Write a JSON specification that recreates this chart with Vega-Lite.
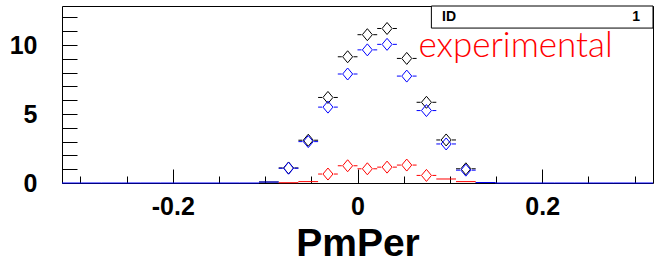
{
  "$schema": "https://vega.github.io/schema/vega-lite/v6.json",
  "width": 591,
  "height": 177,
  "autosize": {"type": "none"},
  "padding": {"left": 62, "top": 6, "right": 6, "bottom": 80},
  "background": "white",
  "config": {"view": {"stroke": "black", "strokeWidth": 1}},
  "resolve": {"axis": {"x": "independent"}},
  "data": {"values": [
    {"s": "sum", "lo": -0.106667, "hi": -0.085333, "x": -0.096, "y": 0.07},
    {"s": "sum", "lo": -0.085333, "hi": -0.064, "x": -0.074667, "y": 1.09},
    {"s": "sum", "lo": -0.064, "hi": -0.042667, "x": -0.053333, "y": 3.1},
    {"s": "sum", "lo": -0.042667, "hi": -0.021333, "x": -0.032, "y": 6.2},
    {"s": "sum", "lo": -0.021333, "hi": 0, "x": -0.010667, "y": 9.15},
    {"s": "sum", "lo": 0, "hi": 0.021333, "x": 0.010667, "y": 10.75},
    {"s": "sum", "lo": 0.021333, "hi": 0.042667, "x": 0.032, "y": 11.2},
    {"s": "sum", "lo": 0.042667, "hi": 0.064, "x": 0.053333, "y": 9.03},
    {"s": "sum", "lo": 0.064, "hi": 0.085333, "x": 0.074667, "y": 5.85},
    {"s": "sum", "lo": 0.085333, "hi": 0.106667, "x": 0.096, "y": 3.12},
    {"s": "sum", "lo": 0.106667, "hi": 0.128, "x": 0.117333, "y": 1.03},
    {"s": "sum", "lo": 0.128, "hi": 0.149333, "x": 0.138667, "y": 0.03},
    {"s": "comp2", "lo": -0.085333, "hi": -0.064, "x": -0.074667, "y": 0.02},
    {"s": "comp2", "lo": -0.064, "hi": -0.042667, "x": -0.053333, "y": 0.1},
    {"s": "comp2", "lo": -0.042667, "hi": -0.021333, "x": -0.032, "y": 0.65},
    {"s": "comp2", "lo": -0.021333, "hi": 0, "x": -0.010667, "y": 1.25},
    {"s": "comp2", "lo": 0, "hi": 0.021333, "x": 0.010667, "y": 1.03},
    {"s": "comp2", "lo": 0.021333, "hi": 0.042667, "x": 0.032, "y": 1.15},
    {"s": "comp2", "lo": 0.042667, "hi": 0.064, "x": 0.053333, "y": 1.3},
    {"s": "comp2", "lo": 0.064, "hi": 0.085333, "x": 0.074667, "y": 0.55},
    {"s": "comp2", "lo": 0.085333, "hi": 0.106667, "x": 0.096, "y": 0.29},
    {"s": "comp2", "lo": 0.106667, "hi": 0.128, "x": 0.117333, "y": 0.1},
    {"s": "comp1", "lo": -0.32, "hi": -0.298667, "x": -0.309333, "y": 0},
    {"s": "comp1", "lo": -0.298667, "hi": -0.277333, "x": -0.288, "y": 0},
    {"s": "comp1", "lo": -0.277333, "hi": -0.256, "x": -0.266667, "y": 0},
    {"s": "comp1", "lo": -0.256, "hi": -0.234667, "x": -0.245333, "y": 0},
    {"s": "comp1", "lo": -0.234667, "hi": -0.213333, "x": -0.224, "y": 0},
    {"s": "comp1", "lo": -0.213333, "hi": -0.192, "x": -0.202667, "y": 0},
    {"s": "comp1", "lo": -0.192, "hi": -0.170667, "x": -0.181333, "y": 0},
    {"s": "comp1", "lo": -0.170667, "hi": -0.149333, "x": -0.16, "y": 0},
    {"s": "comp1", "lo": -0.149333, "hi": -0.128, "x": -0.138667, "y": 0},
    {"s": "comp1", "lo": -0.128, "hi": -0.106667, "x": -0.117333, "y": 0},
    {"s": "comp1", "lo": -0.106667, "hi": -0.085333, "x": -0.096, "y": 0.07},
    {"s": "comp1", "lo": -0.085333, "hi": -0.064, "x": -0.074667, "y": 1.07},
    {"s": "comp1", "lo": -0.064, "hi": -0.042667, "x": -0.053333, "y": 3.0},
    {"s": "comp1", "lo": -0.042667, "hi": -0.021333, "x": -0.032, "y": 5.5},
    {"s": "comp1", "lo": -0.021333, "hi": 0, "x": -0.010667, "y": 7.9},
    {"s": "comp1", "lo": 0, "hi": 0.021333, "x": 0.010667, "y": 9.65},
    {"s": "comp1", "lo": 0.021333, "hi": 0.042667, "x": 0.032, "y": 10.05},
    {"s": "comp1", "lo": 0.042667, "hi": 0.064, "x": 0.053333, "y": 7.75},
    {"s": "comp1", "lo": 0.064, "hi": 0.085333, "x": 0.074667, "y": 5.25},
    {"s": "comp1", "lo": 0.085333, "hi": 0.106667, "x": 0.096, "y": 2.83},
    {"s": "comp1", "lo": 0.106667, "hi": 0.128, "x": 0.117333, "y": 0.93},
    {"s": "comp1", "lo": 0.128, "hi": 0.149333, "x": 0.138667, "y": 0.03},
    {"s": "comp1", "lo": 0.149333, "hi": 0.170667, "x": 0.16, "y": 0},
    {"s": "comp1", "lo": 0.170667, "hi": 0.192, "x": 0.181333, "y": 0},
    {"s": "comp1", "lo": 0.192, "hi": 0.213333, "x": 0.202667, "y": 0},
    {"s": "comp1", "lo": 0.213333, "hi": 0.234667, "x": 0.224, "y": 0},
    {"s": "comp1", "lo": 0.234667, "hi": 0.256, "x": 0.245333, "y": 0},
    {"s": "comp1", "lo": 0.256, "hi": 0.277333, "x": 0.266667, "y": 0},
    {"s": "comp1", "lo": 0.277333, "hi": 0.298667, "x": 0.288, "y": 0},
    {"s": "comp1", "lo": 0.298667, "hi": 0.32, "x": 0.309333, "y": 0}
  ]},
  "encoding": {
    "x": {
      "field": "lo", "type": "quantitative",
      "scale": {"domain": [-0.32, 0.32], "nice": false, "zero": false},
      "axis": {
        "orient": "bottom",
        "title": "PmPer", "domain": false, "grid": false,
        "values": [-0.2, 0, 0.2],
        "format": ".1~f",
        "labelExpr": "replace(datum.label, '\u2212', '-')",
        "ticks": true, "tickColor": "black", "tickOpacity": 1, "tickWidth": 1, "tickSize": -14,
        "labelFont": "Liberation Sans", "labelFontWeight": "bold", "labelFontSize": 25,
        "labelColor": "black", "labelPadding": 45, "labelBaseline": "alphabetic",
        "titleFont": "Liberation Sans", "titleFontWeight": "bold", "titleFontSize": 39,
        "titleColor": "black", "titlePadding": 5
      }
    },
    "y": {
      "field": "y", "type": "quantitative",
      "scale": {"domain": [0, 12.83], "nice": false, "zero": false},
      "axis": {
        "title": null, "grid": false, "domain": false,
        "values": [0, 1, 2, 3, 4, 5, 6, 7, 8, 9, 10, 11, 12],
        "format": "d",
        "labelExpr": "datum.value % 5 === 0 ? datum.label : ''",
        "tickColor": "black", "tickWidth": 1,
        "tickSize": -15,
        "encode": {"ticks": {"update": {"x2": {"signal": "datum.value % 5 === 0 ? 15 : 7"}}}},
        "labelFont": "Liberation Sans", "labelFontWeight": "bold", "labelFontSize": 25,
        "labelColor": "black", "labelPadding": 40, "labelBaseline": "middle", "labelAlign": "right"
      }
    },
    "color": {
      "field": "s", "type": "nominal", "legend": null,
      "scale": {"domain": ["sum", "comp2", "comp1"], "range": ["#000000", "#ff0000", "#0000ff"]}
    }
  },
  "layer": [
    {
      "transform": [{"filter": "datum.y > 0.4"}],
      "mark": {"type": "rule", "strokeWidth": 1, "strokeDash": [4, 11.7]},
      "encoding": {"x2": {"field": "hi"}}
    },
    {
      "transform": [{"filter": "datum.y <= 0.4"}],
      "mark": {"type": "rule", "strokeWidth": 1},
      "encoding": {
        "x": {"field": "lo", "type": "quantitative", "axis": null},
        "x2": {"field": "hi"}
      }
    },
    {
      "transform": [{"filter": "datum.y > 0.4"}],
      "mark": {"type": "point", "shape": "M0,-1.2L1,0L0,1.2L-1,0Z", "filled": false, "size": 100, "strokeWidth": 1, "opacity": 1},
      "encoding": {
        "x": {
          "field": "x", "type": "quantitative",
          "axis": {
            "orient": "bottom", "title": null, "domain": false, "labels": false, "grid": false,
            "values": [-0.3, -0.25, -0.15, -0.1, -0.05, 0.05, 0.1, 0.15, 0.25, 0.3],
            "ticks": true, "tickColor": "black", "tickOpacity": 1, "tickWidth": 1, "tickSize": -7
          }
        }
      }
    },
    {
      "transform": [{"filter": "datum.s === 'sum' && datum.lo === 0"}],
      "mark": {"type": "rect", "fill": "white", "stroke": "black", "strokeWidth": 1},
      "encoding": {
        "x": {"datum": 0.08, "type": "quantitative", "axis": null},
        "x2": {"datum": 0.32},
        "y": {"datum": 11.23, "type": "quantitative"},
        "y2": {"datum": 12.83},
        "color": {"value": "white"}
      }
    },
    {
      "transform": [{"filter": "datum.s === 'sum' && datum.lo === 0"}],
      "mark": {"type": "text", "text": "ID", "font": "Liberation Sans", "fontWeight": "bold", "fontSize": 14, "align": "left", "baseline": "middle"},
      "encoding": {
        "x": {"datum": 0.0915, "type": "quantitative", "axis": null},
        "y": {"datum": 12.05, "type": "quantitative"},
        "color": {"value": "black"}
      }
    },
    {
      "transform": [{"filter": "datum.s === 'sum' && datum.lo === 0"}],
      "mark": {"type": "text", "text": "1", "font": "Liberation Sans", "fontWeight": "bold", "fontSize": 14, "align": "right", "baseline": "middle"},
      "encoding": {
        "x": {"datum": 0.306, "type": "quantitative", "axis": null},
        "y": {"datum": 12.05, "type": "quantitative"},
        "color": {"value": "black"}
      }
    },
    {
      "transform": [{"filter": "datum.s === 'sum' && datum.lo === 0"}],
      "mark": {"type": "text", "text": "experimental", "font": "Lato", "fontWeight": 300, "fontSize": 35, "align": "left", "baseline": "alphabetic"},
      "encoding": {
        "x": {"datum": 0.066, "type": "quantitative", "axis": null},
        "y": {"datum": 9.13, "type": "quantitative"},
        "color": {"value": "#ff0000"}
      }
    }
  ]
}
